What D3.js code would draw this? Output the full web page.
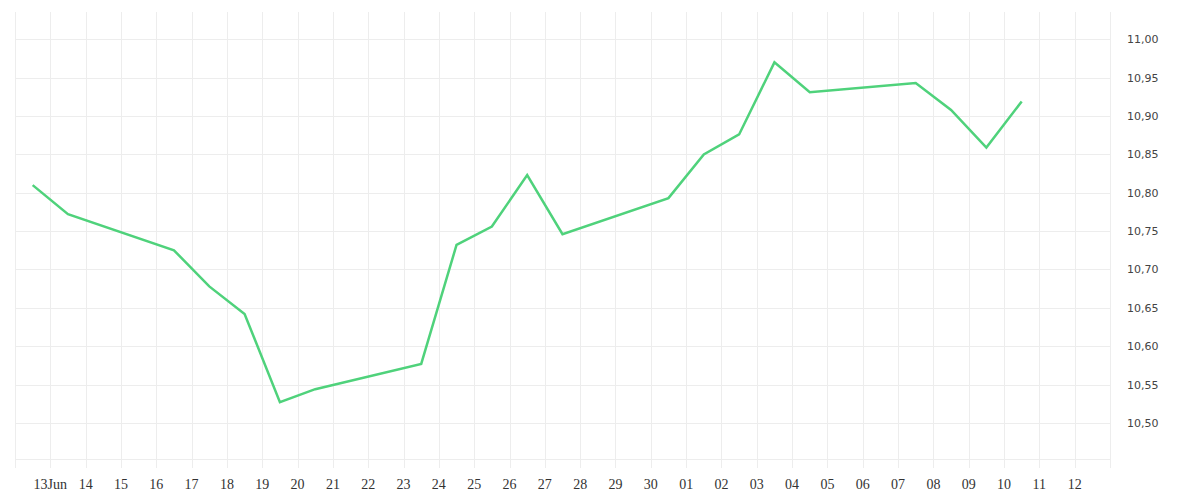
<!DOCTYPE html>
<html>
<head>
<meta charset="utf-8">
<script src="https://cdn.jsdelivr.net/npm/d3@7"></script>
<style>
  html, body { margin: 0; padding: 0; background: #fff; }
  svg { display: block; }
</style>
</head>
<body>
<svg id="chart" width="1200" height="500"></svg>
<script>
// ---- data ----
const dates = [
  "2014-06-12T12:00Z", "2014-06-13T12:00Z",
  "2014-06-16T12:00Z", "2014-06-17T12:00Z", "2014-06-18T12:00Z", "2014-06-19T12:00Z", "2014-06-20T12:00Z",
  "2014-06-23T12:00Z", "2014-06-24T12:00Z", "2014-06-25T12:00Z", "2014-06-26T12:00Z", "2014-06-27T12:00Z",
  "2014-06-30T12:00Z", "2014-07-01T12:00Z", "2014-07-02T12:00Z", "2014-07-03T12:00Z", "2014-07-04T12:00Z",
  "2014-07-07T12:00Z", "2014-07-08T12:00Z", "2014-07-09T12:00Z", "2014-07-10T12:00Z"
];
const values = [
  10.810, 10.772,
  10.725, 10.678, 10.642, 10.527, 10.544,
  10.577, 10.732, 10.756, 10.823, 10.746,
  10.793, 10.850, 10.876, 10.970, 10.931,
  10.943, 10.908, 10.859, 10.919
];
const xDomain = ["2014-06-12T00:00Z", "2014-07-13T00:00Z"];
const yDomain = [10.453, 11.0356];
const yTicks = [10.50, 10.55, 10.60, 10.65, 10.70, 10.75, 10.80, 10.85, 10.90, 10.95, 11.00];

// ---- layout ----
const mLeft = 15, mRight = 1110, mTop = 12, mBottom = 459;
const gridColor = "#ededed";
const lineColor = "#4fd27b";

const svg = d3.select("#chart");
const x = d3.scaleUtc().domain(xDomain.map(d => new Date(d))).range([mLeft, mRight]);
const y = d3.scaleLinear().domain(yDomain).range([mBottom, mTop]);

const dayTicks = d3.utcDay.range(x.domain()[0], d3.utcDay.offset(x.domain()[1], 1));

// horizontal grid
svg.append("g").selectAll("line").data(yTicks).join("line")
  .attr("x1", mLeft).attr("x2", mRight)
  .attr("y1", d => Math.round(y(d)) + 0.5).attr("y2", d => Math.round(y(d)) + 0.5)
  .attr("stroke", gridColor).attr("stroke-width", 1);
// bottom border
svg.append("line")
  .attr("x1", mLeft).attr("x2", mRight)
  .attr("y1", mBottom + 0.5).attr("y2", mBottom + 0.5)
  .attr("stroke", gridColor).attr("stroke-width", 1);

// vertical grid (extending into tick marks)
svg.append("g").selectAll("line").data(dayTicks).join("line")
  .attr("x1", d => Math.round(x(d)) + 0.5).attr("x2", d => Math.round(x(d)) + 0.5)
  .attr("y1", mTop).attr("y2", mBottom + 9)
  .attr("stroke", gridColor).attr("stroke-width", 1);

// x labels
const fmtDay = d3.utcFormat("%d");
const labeled = dayTicks.slice(1, dayTicks.length - 1);
svg.append("g").selectAll("text").data(labeled).join("text")
  .attr("x", d => x(d))
  .attr("y", 489)
  .attr("text-anchor", "middle")
  .attr("font-family", "'Liberation Serif', 'DejaVu Serif', serif")
  .attr("font-size", 14)
  .attr("fill", "#333")
  .text((d, i) => i === 0 ? fmtDay(d) + d3.utcFormat("%b")(d) : fmtDay(d));

// y labels
const fmtY = v => d3.format(".2f")(v).replace(".", ",");
svg.append("g").selectAll("text").data(yTicks).join("text")
  .attr("x", 1127)
  .attr("y", d => y(d) + 4)
  .attr("text-anchor", "start")
  .attr("font-family", "'DejaVu Sans', Verdana, sans-serif")
  .attr("font-size", 11)
  .attr("fill", "#444")
  .text(fmtY);

// line
const pts = dates.map((d, i) => ({ t: new Date(d), v: values[i] }));
svg.append("path")
  .datum(pts)
  .attr("fill", "none")
  .attr("stroke", lineColor)
  .attr("stroke-width", 2.5)
  .attr("stroke-linejoin", "miter")
  .attr("d", d3.line().x(d => x(d.t)).y(d => y(d.v)));
</script>
</body>
</html>
